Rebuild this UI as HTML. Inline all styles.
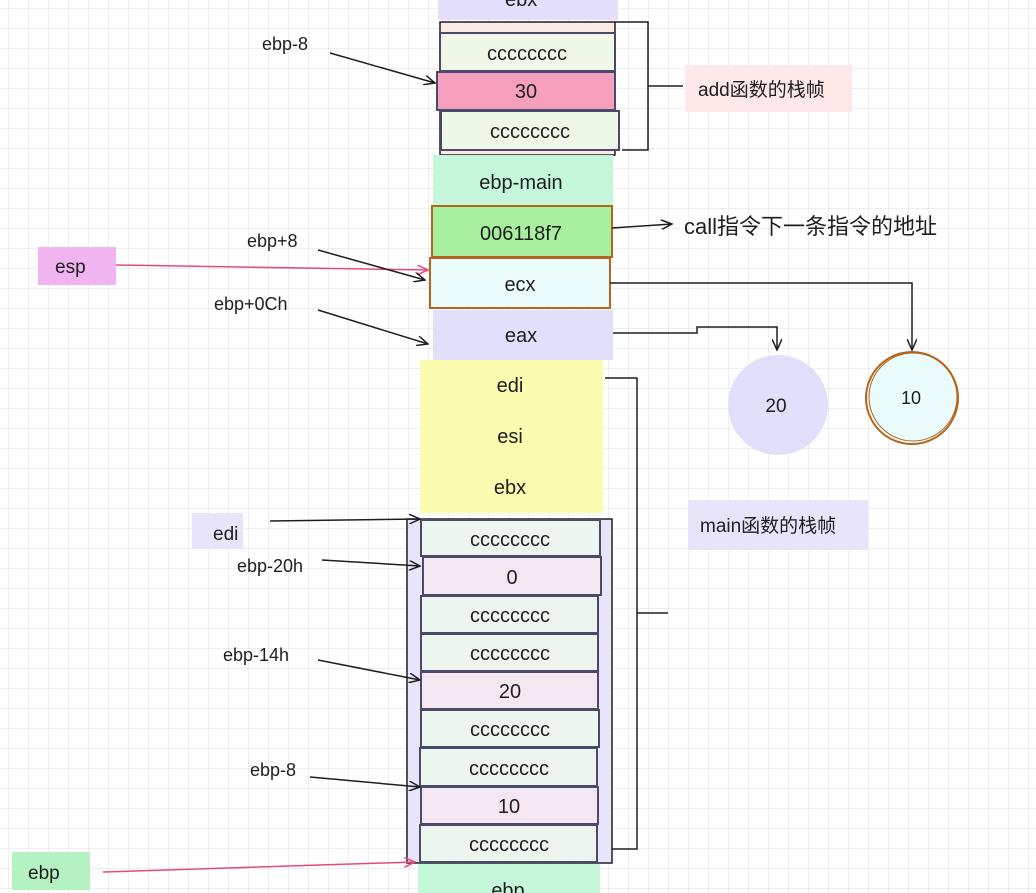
<!DOCTYPE html>
<html><head><meta charset="utf-8"><style>
html,body{margin:0;padding:0;background:#fff;}
svg{display:block;}
text{font-family:"Liberation Sans","Noto Sans CJK SC",sans-serif;fill:#1e1e1e;}
</style></head><body>
<svg width="1036" height="893" viewBox="0 0 1036 893" xmlns="http://www.w3.org/2000/svg">
<defs>
<pattern id="grid" width="20" height="20" patternUnits="userSpaceOnUse" x="9" y="9">
<path d="M20 0V20M0 20H20" stroke="#dcdcdc" stroke-width="1" fill="none"/>
</pattern>
<marker id="ar" markerWidth="12" markerHeight="10" refX="11" refY="5" orient="auto" markerUnits="userSpaceOnUse">
<path d="M0 0L11 5L0 10" fill="none" stroke="#1e1e1e" stroke-width="1.5"/></marker>
<marker id="arp" markerWidth="12" markerHeight="10" refX="11" refY="5" orient="auto" markerUnits="userSpaceOnUse">
<path d="M0 0L11 5L0 10" fill="none" stroke="#e64980" stroke-width="1.5"/></marker>
</defs>
<rect width="1036" height="893" fill="url(#grid)"/>

<rect x="438" y="0" width="180" height="20" fill="#e4e0fb"/>
<text x="505" y="6" font-size="20">ebx</text>

<rect x="440" y="22" width="175" height="133" fill="#fbeaea" stroke="#1e1e1e" stroke-width="1.5"/>
<rect x="440" y="33" width="175" height="38" fill="#eef7e8" stroke="#4a4a6a" stroke-width="2"/>
<text x="527" y="60" font-size="20" text-anchor="middle">cccccccc</text>
<rect x="437" y="72" width="178" height="38" fill="#f7a0bd" stroke="#4a4a6a" stroke-width="2"/>
<text x="526" y="98" font-size="20" text-anchor="middle">30</text>
<rect x="441" y="111" width="178" height="39" fill="#eef7e8" stroke="#4a4a6a" stroke-width="2"/>
<text x="530" y="138" font-size="20" text-anchor="middle">cccccccc</text>
<path d="M615 22H648V150H622M648 86H683" fill="none" stroke="#1e1e1e" stroke-width="1.5"/>
<rect x="685" y="65" width="167" height="47" fill="#fde8e8"/>
<text x="698" y="96" font-size="19">add函数的栈帧</text>

<rect x="433" y="155" width="180" height="50" fill="#c5f7da"/>
<text x="521" y="189" font-size="20" text-anchor="middle">ebp-main</text>
<rect x="432" y="206" width="180" height="51" fill="#a8ef9f" stroke="#b5651d" stroke-width="2"/>
<text x="521" y="240" font-size="20" text-anchor="middle">006118f7</text>
<rect x="430" y="258" width="180" height="50" fill="#eafcfc" stroke="#b5651d" stroke-width="2"/>
<text x="520" y="291" font-size="20" text-anchor="middle">ecx</text>
<rect x="433" y="310" width="180" height="50" fill="#e0e0fb"/>
<text x="521" y="342" font-size="20" text-anchor="middle">eax</text>

<path d="M612 228L672 224" stroke="#1e1e1e" stroke-width="1.5" marker-end="url(#ar)"/>
<text x="684" y="234" font-size="22">call指令下一条指令的地址</text>

<rect x="420" y="360" width="183" height="153" fill="#fcfcb0"/>
<text x="510" y="392" font-size="20" text-anchor="middle">edi</text>
<text x="510" y="443" font-size="20" text-anchor="middle">esi</text>
<text x="510" y="494" font-size="20" text-anchor="middle">ebx</text>

<path d="M610 283H912V350" fill="none" stroke="#1e1e1e" stroke-width="1.5" marker-end="url(#ar)"/>
<path d="M613 333H697V327H777V350" fill="none" stroke="#1e1e1e" stroke-width="1.5" marker-end="url(#ar)"/>
<circle cx="778" cy="405" r="50" fill="#e0e0fb"/>
<text x="776" y="412" font-size="19" text-anchor="middle">20</text>
<circle cx="912" cy="398" r="46" fill="#eafcfc" stroke="#b5651d" stroke-width="2"/>
<circle cx="913" cy="397" r="44" fill="none" stroke="#b5651d" stroke-width="1"/>
<text x="911" y="404" font-size="18" text-anchor="middle">10</text>

<path d="M605 378H637V849H605M637 613H668" fill="none" stroke="#1e1e1e" stroke-width="1.5"/>
<rect x="688" y="500" width="180" height="50" fill="#e8e5fb"/>
<text x="700" y="532" font-size="19">main函数的栈帧</text>
<rect x="407" y="519" width="205" height="344" fill="#e8e5fb" stroke="#1e1e1e" stroke-width="1.5"/>
<g stroke="#4a4a6a" stroke-width="2">
<rect x="421" y="520" width="179" height="36" fill="#ecf5ee"/>
<rect x="423" y="557" width="178" height="38" fill="#f5e7f2"/>
<rect x="421" y="596" width="177" height="37" fill="#ecf5ee"/>
<rect x="421" y="634" width="177" height="37" fill="#ecf5ee"/>
<rect x="421" y="672" width="177" height="37" fill="#f5e7f2"/>
<rect x="421" y="710" width="178" height="37" fill="#ecf5ee"/>
<rect x="420" y="748" width="177" height="38" fill="#ecf5ee"/>
<rect x="421" y="787" width="177" height="37" fill="#f5e7f2"/>
<rect x="420" y="825" width="177" height="37" fill="#ecf5ee"/>
</g>
<g font-size="20" text-anchor="middle">
<text x="510" y="546">cccccccc</text>
<text x="512" y="584">0</text>
<text x="510" y="622">cccccccc</text>
<text x="510" y="660">cccccccc</text>
<text x="510" y="698">20</text>
<text x="510" y="736">cccccccc</text>
<text x="509" y="775">cccccccc</text>
<text x="509" y="813">10</text>
<text x="509" y="851">cccccccc</text>
</g>
<rect x="418" y="864" width="182" height="29" fill="#c5f7da"/>
<text x="508" y="897" font-size="20" text-anchor="middle">ebp</text>

<text x="262" y="50" font-size="18">ebp-8</text>
<path d="M330 53L435 83" stroke="#1e1e1e" stroke-width="1.5" marker-end="url(#ar)"/>
<rect x="38" y="247" width="78" height="38" fill="#f0b4f0"/>
<text x="55" y="273" font-size="19">esp</text>
<path d="M116 265L428 270" stroke="#e64980" stroke-width="1.5" marker-end="url(#arp)"/>
<text x="247" y="247" font-size="18">ebp+8</text>
<path d="M318 250L425 280" stroke="#1e1e1e" stroke-width="1.5" marker-end="url(#ar)"/>
<text x="214" y="310" font-size="18">ebp+0Ch</text>
<path d="M318 310L428 344" stroke="#1e1e1e" stroke-width="1.5" marker-end="url(#ar)"/>
<rect x="192" y="513" width="51" height="36" fill="#e8e5fb"/>
<text x="213" y="540" font-size="19">edi</text>
<path d="M270 521L420 519" stroke="#1e1e1e" stroke-width="1.5" marker-end="url(#ar)"/>
<text x="237" y="572" font-size="18">ebp-20h</text>
<path d="M322 560L420 566" stroke="#1e1e1e" stroke-width="1.5" marker-end="url(#ar)"/>
<text x="223" y="661" font-size="18">ebp-14h</text>
<path d="M318 660L420 680" stroke="#1e1e1e" stroke-width="1.5" marker-end="url(#ar)"/>
<text x="250" y="776" font-size="18">ebp-8</text>
<path d="M310 777L420 787" stroke="#1e1e1e" stroke-width="1.5" marker-end="url(#ar)"/>
<rect x="12" y="852" width="78" height="38" fill="#b4f2c2"/>
<text x="28" y="879" font-size="19">ebp</text>
<path d="M103 872L415 862" stroke="#e64980" stroke-width="1.5" marker-end="url(#arp)"/>
</svg>
</body></html>
